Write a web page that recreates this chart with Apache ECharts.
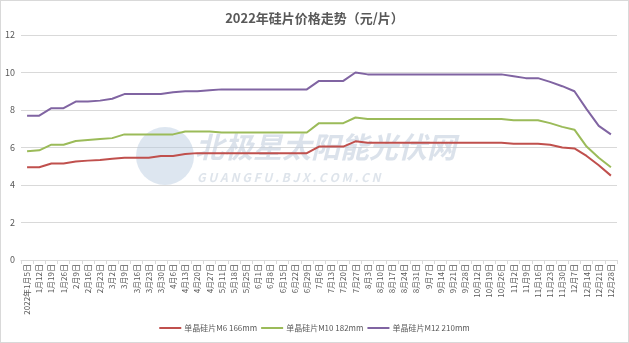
<!DOCTYPE html>
<html>
<head>
<meta charset="utf-8">
<script src="https://cdn.jsdelivr.net/npm/echarts@6/dist/echarts.min.js"></script>
<style>
html,body{margin:0;padding:0;background:#fff;}
#c{width:629px;height:343px;box-sizing:border-box;border:1px solid #d9d9d9;}
</style>
</head>
<body>
<div id="c"></div>
<script>
var categories = ['2022年1月5日','1月12日','1月19日','1月26日','2月9日','2月16日','2月23日','3月2日','3月9日','3月16日','3月23日','3月30日','4月6日','4月13日','4月20日','4月27日','5月11日','5月18日','5月25日','6月1日','6月8日','6月15日','6月22日','6月29日','7月6日','7月13日','7月20日','7月27日','8月3日','8月10日','8月17日','8月24日','8月31日','9月7日','9月14日','9月21日','9月28日','10月12日','10月19日','10月26日','11月2日','11月9日','11月16日','11月23日','11月30日','12月7日','12月14日','12月21日','12月28日'];
var m6 = [4.95,4.95,5.15,5.15,5.25,5.3,5.33,5.4,5.45,5.45,5.45,5.55,5.55,5.65,5.7,5.7,5.7,5.7,5.7,5.7,5.7,5.7,5.7,5.7,6.05,6.05,6.05,6.33,6.25,6.25,6.25,6.25,6.25,6.25,6.25,6.25,6.25,6.25,6.25,6.25,6.2,6.2,6.2,6.15,6.0,5.95,5.55,5.05,4.5];
var m10 = [5.8,5.85,6.15,6.15,6.35,6.4,6.45,6.5,6.7,6.7,6.7,6.7,6.7,6.85,6.85,6.85,6.8,6.8,6.8,6.8,6.8,6.8,6.8,6.8,7.3,7.3,7.3,7.6,7.52,7.52,7.52,7.52,7.52,7.52,7.52,7.52,7.52,7.52,7.52,7.52,7.45,7.45,7.45,7.3,7.1,6.95,6.05,5.45,4.95];
var m12 = [7.7,7.7,8.1,8.1,8.45,8.45,8.5,8.6,8.85,8.85,8.85,8.85,8.95,9.0,9.0,9.05,9.1,9.1,9.1,9.1,9.1,9.1,9.1,9.1,9.55,9.55,9.55,10.0,9.9,9.9,9.9,9.9,9.9,9.9,9.9,9.9,9.9,9.9,9.9,9.9,9.8,9.7,9.7,9.5,9.27,9.0,8.05,7.15,6.7];
var seriesNames = ['单晶硅片M6 166mm','单晶硅片M10 182mm','单晶硅片M12 210mm'];
var yTicks = [0,2,4,6,8,10,12];

var chart = echarts.init(document.getElementById('c'));
var font = '"Microsoft YaHei","Noto Sans CJK SC",sans-serif';
function line(name, data, color){
  return {name:name,type:'line',data:data,symbol:'none',smooth:false,
    lineStyle:{color:color,width:2},itemStyle:{color:color},z:3};
}
chart.setOption({
  animation:false,
  textStyle:{fontFamily:font},
  title:{text:'2022年硅片价格走势（元/片）',left:'center',top:6,
    textStyle:{fontSize:13,fontWeight:'bold',color:'#595959',fontFamily:font}},
  grid:{left:20,right:11,top:34,bottom:82,containLabel:false},
  legend:{bottom:5,left:'center',itemWidth:22,itemHeight:2,itemGap:4,icon:'rect',
    textStyle:{fontSize:8,color:'#595959',padding:[0,0,0,-2]},data:seriesNames},
  xAxis:{type:'category',data:categories,boundaryGap:true,
    axisLine:{lineStyle:{color:'#d9d9d9'}},
    axisTick:{show:true,length:4,lineStyle:{color:'#d9d9d9'}},
    axisLabel:{interval:0,rotate:90,fontSize:8,color:'#595959',margin:4}},
  yAxis:{type:'value',min:yTicks[0],max:yTicks[yTicks.length-1],interval:2,
    axisLine:{show:false},axisTick:{show:false},
    axisLabel:{fontSize:9,color:'#595959',margin:6},
    splitLine:{lineStyle:{color:'#d9d9d9',width:1}}},
  graphic:[
    {type:'circle',shape:{cx:164,cy:155,r:29},style:{fill:'rgba(180,200,222,0.45)'},z:1},
    {type:'text',left:194,top:131,style:{text:'北极星太阳能光伏网',fontSize:29,fontWeight:'bold',fontStyle:'italic',fill:'rgba(190,202,218,0.55)',fontFamily:font},z:1},
    {type:'text',left:196,top:170,style:{text:'G U A N G F U . B J X . C O M . C N',fontSize:12,fontWeight:'bold',fontStyle:'italic',fill:'rgba(195,205,218,0.55)',fontFamily:font},z:1}
  ],
  series:[line(seriesNames[0],m6,'#C0504D'),line(seriesNames[1],m10,'#9BBB59'),line(seriesNames[2],m12,'#8064A2')]
});
</script>
</body>
</html>
